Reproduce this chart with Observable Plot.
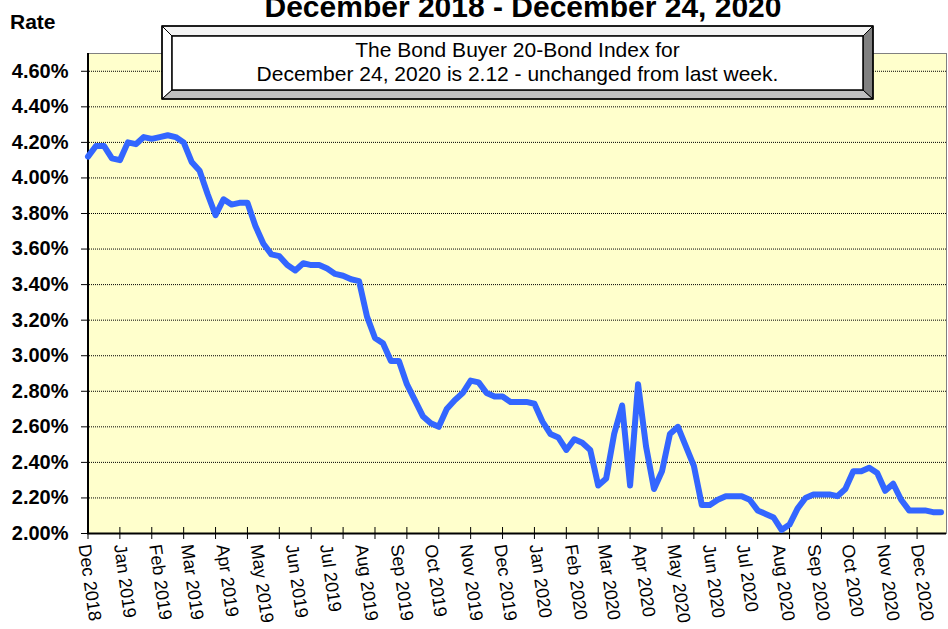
<!DOCTYPE html>
<html><head><meta charset="utf-8">
<script src="https://cdn.jsdelivr.net/npm/d3@7"></script>
<script src="https://cdn.jsdelivr.net/npm/@observablehq/plot@0.6"></script>
<style>body{margin:0;background:#fff;} #chart svg{display:block;}</style>
</head><body><div id="chart"></div>
<script>
const startDate = "2018-12-06"; // first weekly observation (Thursday)
const rates = [
  4.12, 4.18, 4.18, 4.11, 4.10, 4.20, 4.19, 4.23, 4.22, 4.23,
  4.24, 4.23, 4.20, 4.09, 4.04, 3.91, 3.79, 3.88, 3.85, 3.86,
  3.86, 3.73, 3.63, 3.57, 3.56, 3.51, 3.48, 3.52, 3.51, 3.51,
  3.49, 3.46, 3.45, 3.43, 3.42, 3.22, 3.10, 3.07, 2.97, 2.97,
  2.84, 2.75, 2.66, 2.62, 2.60, 2.70, 2.75, 2.79, 2.86, 2.85,
  2.79, 2.77, 2.77, 2.74, 2.74, 2.74, 2.73, 2.63, 2.56, 2.54,
  2.47, 2.53, 2.51, 2.47, 2.27, 2.31, 2.56, 2.72, 2.27, 2.84,
  2.49, 2.25, 2.35, 2.56, 2.60, 2.49, 2.38, 2.16, 2.16, 2.19,
  2.21, 2.21, 2.21, 2.19, 2.13, 2.11, 2.09, 2.02, 2.05, 2.14,
  2.20, 2.22, 2.22, 2.22, 2.21, 2.25, 2.35, 2.35, 2.37, 2.34,
  2.24, 2.28, 2.19, 2.13, 2.13, 2.13, 2.12, 2.12
];
const monthLabels = [
  "Dec 2018", "Jan 2019", "Feb 2019", "Mar 2019", "Apr 2019", "May 2019", "Jun 2019",
  "Jul 2019", "Aug 2019", "Sep 2019", "Oct 2019", "Nov 2019", "Dec 2019", "Jan 2020",
  "Feb 2020", "Mar 2020", "Apr 2020", "May 2020", "Jun 2020", "Jul 2020", "Aug 2020",
  "Sep 2020", "Oct 2020", "Nov 2020", "Dec 2020"
];
const yTicks = [2.0, 2.2, 2.4, 2.6, 2.8, 3.0, 3.2, 3.4, 3.6, 3.8, 4.0, 4.2, 4.4, 4.6];
const title = "December 2018 - December 24, 2020";
const noteLines = ["The Bond Buyer 20-Bond Index for", "December 24, 2020 is 2.12 - unchanged from last week."];
const yAxisTitle = "Rate";

const FONT = "'Liberation Sans', Arial, Helvetica, sans-serif";
const start = new Date(startDate + "T00:00:00Z");
const data = rates.map((v, i) => ({date: d3.utcDay.offset(start, 7 * i), rate: v}));
const parseMonth = d3.utcParse("%b %Y");
const monthDates = monthLabels.map(s => ({date: parseMonth(s), label: s}));
const tickDates = data.filter((d, i) => i % 4 === 0).map(d => d.date);

const chart = Plot.plot({
  width: 948, height: 629,
  marginLeft: 87, marginRight: 2, marginTop: 53, marginBottom: 96,
  style: {fontFamily: FONT, background: "white", overflow: "visible", color: "#000"},
  x: {type: "utc", domain: [data[0].date, data[data.length - 1].date], range: [87.5, 940.5]},
  y: {domain: [2.0, 4.7]},
  marks: [
    Plot.frame({fill: "#ffffcc", stroke: "#808080"}),
    Plot.ruleY(yTicks.slice(1), {stroke: "#000", strokeDasharray: "1,1", strokeWidth: 1}),
    Plot.axisY({ticks: yTicks, tickSize: 6, tickPadding: 13, tickFormat: d => d.toFixed(2) + "%",
      fontSize: 20, fontWeight: "bold", label: null, stroke: "#000"}),
    Plot.axisX({ticks: tickDates, tickSize: 12, tickFormat: () => "", dy: -6, label: null, stroke: "#000"}),
    Plot.text(monthDates, {x: "date", text: "label", frameAnchor: "bottom", rotate: 82,
      textAnchor: "start", lineAnchor: "middle", dy: 11, dx: 2, fontSize: 18, fill: "#000"}),
    Plot.ruleY([2.0], {stroke: "#000", strokeWidth: 2}),
    Plot.ruleX([data[0].date], {stroke: "#000", strokeWidth: 2}),
    Plot.line(data, {x: "date", y: "rate", stroke: "#3366ff", strokeWidth: 6, strokeLinejoin: "round", strokeLinecap: "round"})
  ]
});
document.getElementById("chart").appendChild(chart);

// Annotations: title, axis title, and bevelled note box
const svg = d3.select(chart);
svg.append("text").attr("x", 523).attr("y", 17).attr("text-anchor", "middle")
  .attr("font-family", FONT).attr("font-size", 30).attr("font-weight", "bold").attr("fill", "#000").text(title);
svg.append("text").attr("x", 10).attr("y", 29).attr("text-anchor", "start")
  .attr("font-family", FONT).attr("font-size", 21).attr("font-weight", "bold").attr("fill", "#000").text(yAxisTitle);

const L = 162, T = 26, R = 873, B = 99, l = 172, t = 36, r = 863, b = 90;
const box = svg.append("g");
const poly = (pts, fill) => box.append("polygon").attr("points", pts.map(p => p.join(",")).join(" "))
  .attr("fill", fill).attr("stroke", "#000").attr("stroke-width", 1);
poly([[L, T], [R, T], [r, t], [l, t]], "#f4f4f4");
poly([[L, T], [l, t], [l, b], [L, B]], "#ffffff");
poly([[L, B], [l, b], [r, b], [R, B]], "#c0c0c0");
poly([[R, T], [R, B], [r, b], [r, t]], "#808080");
box.append("rect").attr("x", l).attr("y", t).attr("width", r - l).attr("height", b - t)
  .attr("fill", "#fff").attr("stroke", "#000").attr("stroke-width", 1.5);
box.append("rect").attr("x", L).attr("y", T).attr("width", R - L).attr("height", B - T)
  .attr("fill", "none").attr("stroke", "#000").attr("stroke-width", 1.5);
noteLines.forEach((s, i) => {
  box.append("text").attr("x", (l + r) / 2).attr("y", 57 + i * 24).attr("text-anchor", "middle")
    .attr("font-family", FONT).attr("font-size", 21).attr("fill", "#000").text(s);
});
</script>
</body></html>
